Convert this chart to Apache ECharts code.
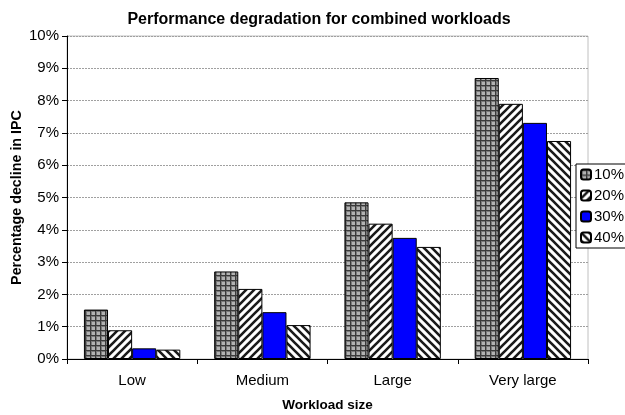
<!DOCTYPE html>
<html>
<head>
<meta charset="utf-8">
<script src="https://cdn.jsdelivr.net/npm/echarts@6/dist/echarts.min.js"></script>
<style>
  html, body { margin: 0; padding: 0; background: #fff; }
  #chart { width: 625px; height: 415px; }
</style>
</head>
<body>
<div id="chart"></div>
<script>
// Workload sizes along the x axis
const categories = ['Low', 'Medium', 'Large', 'Very large'];
// Series names (legend)
const seriesNames = ['10%', '20%', '30%', '40%'];
// Percentage decline in IPC per series
const s10 = [1.53, 2.71, 4.85, 8.70];
const s20 = [0.89, 2.17, 4.19, 7.90];
const s30 = [0.33, 1.45, 3.75, 7.31];
const s40 = [0.29, 1.05, 3.47, 6.75];
// Y axis range (percent)
const yMin = 0, yMax = 10, yStep = 1;

// Fill patterns drawn on small canvases
function gridPattern() {
  const c = document.createElement('canvas');
  c.width = 5; c.height = 5;
  const g = c.getContext('2d');
  g.fillStyle = '#b2b2b2';
  g.fillRect(0, 0, 5, 5);
  g.fillStyle = '#7a7a7a';
  g.fillRect(0, 1, 5, 1);
  g.fillRect(1, 0, 1, 5);
  g.fillStyle = '#3a3a3a';
  g.fillRect(0, 0, 5, 1);
  g.fillRect(0, 0, 1, 5);
  return c;
}
function stripePattern(forward) {
  const s = 8;
  const c = document.createElement('canvas');
  c.width = s; c.height = s;
  const g = c.getContext('2d');
  g.fillStyle = '#ffffff';
  g.fillRect(0, 0, s, s);
  g.strokeStyle = '#1a1a1a';
  g.lineWidth = 2.6;
  g.beginPath();
  const segs = forward
    ? [[0, s, s, 0], [-s / 2, s / 2, s / 2, -s / 2], [s / 2, s * 1.5, s * 1.5, s / 2]]
    : [[0, 0, s, s], [-s / 2, s / 2, s / 2, s * 1.5], [s / 2, -s / 2, s * 1.5, s / 2]];
  segs.forEach(([x1, y1, x2, y2]) => { g.moveTo(x1, y1); g.lineTo(x2, y2); });
  g.stroke();
  return c;
}

const fills = [
  { image: gridPattern(), repeat: 'repeat' },
  { image: stripePattern(true), repeat: 'repeat' },
  '#0000ff',
  { image: stripePattern(false), repeat: 'repeat' }
];
const values = [s10, s20, s30, s40];

const font = 'Liberation Sans, Arial, sans-serif';
const chart = echarts.init(document.getElementById('chart'), null, { renderer: 'canvas' });

chart.setOption({
  animation: false,
  backgroundColor: '#ffffff',
  textStyle: { fontFamily: font },
  title: {
    text: 'Performance degradation for combined workloads',
    left: 314,
    textAlign: 'center',
    top: 7,
    textStyle: { fontFamily: font, fontSize: 16, fontWeight: 'bold', color: '#000' }
  },
  legend: {
    orient: 'vertical',
    left: 576,
    top: 164,
    padding: [3, 8, 3, 4],
    itemGap: 6,
    itemWidth: 10,
    itemHeight: 10,
    backgroundColor: '#ffffff',
    borderColor: '#000',
    borderWidth: 1,
    borderRadius: 0,
    data: seriesNames,
    textStyle: { fontFamily: font, fontSize: 15, color: '#000', lineHeight: 15, padding: [0, 0, 0, -2] }
  },
  grid: {
    left: 67, right: 37, top: 36, bottom: 56,
    outerBoundsMode: 'none',
    containLabel: false,
    show: true,
    borderColor: '#c0c0c0',
    borderWidth: 1,
    backgroundColor: 'transparent'
  },
  xAxis: {
    type: 'category',
    data: categories,
    name: 'Workload size',
    nameLocation: 'middle',
    nameGap: 39,
    nameMoveOverlap: false,
    nameTextStyle: { fontFamily: font, fontSize: 13.5, fontWeight: 'bold', color: '#000' },
    axisLine: { lineStyle: { color: '#000', width: 1 } },
    axisTick: { show: true, length: 5, lineStyle: { color: '#000' } },
    axisLabel: { fontFamily: font, fontSize: 15, color: '#000', margin: 14 },
    splitLine: { show: false }
  },
  yAxis: {
    type: 'value',
    min: yMin, max: yMax, interval: yStep,
    name: 'Percentage decline in IPC',
    nameLocation: 'middle',
    nameGap: 43,
    nameMoveOverlap: false,
    nameTextStyle: { fontFamily: font, fontSize: 14.3, fontWeight: 'bold', color: '#000' },
    axisLine: { show: true, lineStyle: { color: '#000', width: 1 } },
    axisTick: { show: true, length: 5, lineStyle: { color: '#000' } },
    axisLabel: { fontFamily: font, fontSize: 15, color: '#000', margin: 8, formatter: '{value}%' },
    splitLine: { show: true, lineStyle: { color: '#a0a0a0', width: 1, type: [2, 1] } }
  },
  series: seriesNames.map((name, i) => ({
    name: name,
    type: 'bar',
    data: values[i],
    barGap: '0%',
    barCategoryGap: '26%',
    itemStyle: { color: fills[i], borderColor: '#000', borderWidth: 1 }
  }))
});
</script>
</body>
</html>
